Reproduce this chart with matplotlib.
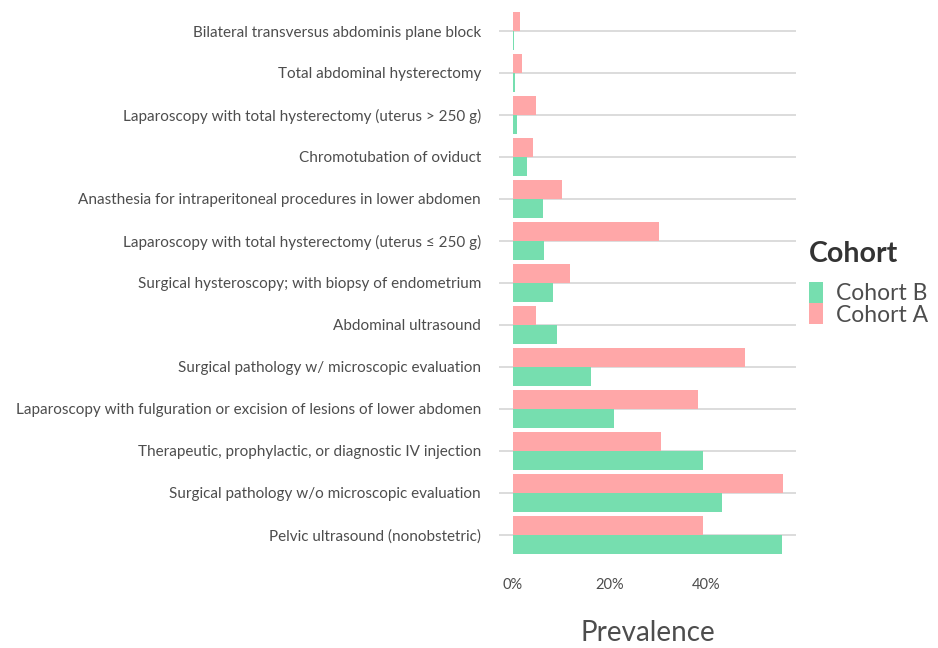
import numpy as np
import matplotlib.pyplot as plt
from matplotlib.patches import Patch
from matplotlib.ticker import FuncFormatter

plt.rcParams['font.family'] = ['Lato', 'DejaVu Sans']

procedures = [
    "Bilateral transversus abdominis plane block",
    "Total abdominal hysterectomy",
    "Laparoscopy with total hysterectomy (uterus > 250 g)",
    "Chromotubation of oviduct",
    "Anasthesia for intraperitoneal procedures in lower abdomen",
    "Laparoscopy with total hysterectomy (uterus \u2264 250 g)",
    "Surgical hysteroscopy; with biopsy of endometrium",
    "Abdominal ultrasound",
    "Surgical pathology w/ microscopic evaluation",
    "Laparoscopy with fulguration or excision of lesions of lower abdomen",
    "Therapeutic, prophylactic, or diagnostic IV injection",
    "Surgical pathology w/o microscopic evaluation",
    "Pelvic ultrasound (nonobstetric)",
]
cohort_a = [1.45, 1.95, 4.8, 4.2, 10.2, 30.3, 11.85, 4.8, 48.1, 38.3, 30.6, 55.9, 39.4]
cohort_b = [0.35, 0.55, 0.9, 2.95, 6.2, 6.55, 8.35, 9.1, 16.2, 21.05, 39.4, 43.3, 55.7]

col_a = '#FFA7A8'
col_b = '#76DEAF'
text_col = '#4d4d4d'

fig = plt.figure(figsize=(9.38, 6.48), dpi=100)
ax = fig.add_axes([0.532, 0.136, 0.317, 0.855])

n = len(procedures)
y = np.arange(n)[::-1]
h = 0.45

ax.barh(y + h / 2, cohort_a, height=h, color=col_a, linewidth=0, zorder=3)
ax.barh(y - h / 2, cohort_b, height=h, color=col_b, linewidth=0, zorder=3)

for yy in y:
    ax.axhline(yy, color='#dcdcdc', linewidth=1.4, zorder=1)

ax.set_xlim(-2.8, 58.7)
ax.set_ylim(-0.6, n - 0.4)
ax.set_yticks(y)
ax.set_yticklabels(procedures, fontsize=11, color=text_col)
ax.set_xticks([0, 20, 40])
ax.xaxis.set_major_formatter(FuncFormatter(lambda v, p: "{:.0f}%".format(v)))
ax.tick_params(axis='x', labelsize=10.5, colors=text_col, length=0, pad=13)
ax.tick_params(axis='y', length=0, pad=13)
for s in ax.spines.values():
    s.set_visible(False)

ax.set_xlabel("Prevalence", fontsize=20, color=text_col, labelpad=20)

handles = [Patch(facecolor=col_b, edgecolor='none', label='Cohort B'),
           Patch(facecolor=col_a, edgecolor='none', label='Cohort A')]
leg = fig.legend(handles=handles, loc='upper left', bbox_to_anchor=(0.853, 0.643),
                 frameon=False, fontsize=16.5, title='Cohort',
                 handlelength=0.6, handleheight=1.05, handletextpad=0.55,
                 labelspacing=-0.05, borderaxespad=0)
leg.get_title().set_fontsize(20.5)
leg.get_title().set_fontweight('bold')
leg.get_title().set_color('#333333')
leg._legend_box.align = 'left'
leg._legend_box.sep = 11
for t in leg.get_texts():
    t.set_color(text_col)

fig.savefig('out.png', dpi=100)
